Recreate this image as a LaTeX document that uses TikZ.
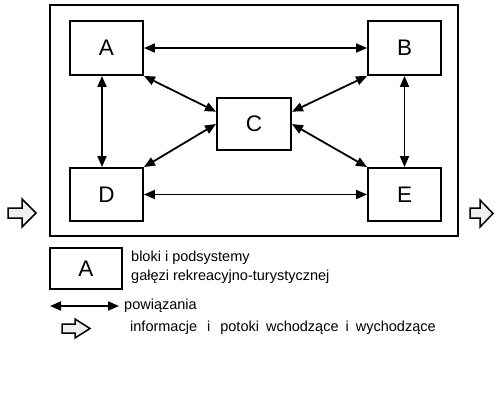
\documentclass[tikz,border=0pt]{standalone}
\usepackage{fontspec}
\setmainfont{Liberation Sans}
\usetikzlibrary{arrows.meta}
\begin{document}
\begin{tikzpicture}[x=1pt,y=-1pt,
 blockbox/.style={draw, line width=1.9pt, minimum width=73pt, minimum height=54pt, inner sep=0pt, font=\fontsize{22.5}{22.5}\selectfont},
 link/.style={line width=1.8pt, {Triangle[length=11pt,width=9pt]}-{Triangle[length=11pt,width=9pt]}},
 fat/.style={draw, line width=1.5pt, fill=gray!12, line join=miter},
 legtext/.style={anchor=west, inner sep=0pt, font=\fontsize{14.5}{17}\selectfont}]
\useasboundingbox[fill=white] (0,0) rectangle (495,392);
% outer frame
\node[draw, line width=1.9pt, minimum width=408pt, minimum height=231pt, inner sep=0pt] (frame) at (254,120.5) {};
% blocks
\node[blockbox] (A) at (106.5,48) {A};
\node[blockbox] (B) at (404.5,48) {B};
\node[blockbox, minimum width=74pt, minimum height=52pt] (C) at (254,124) {C};
\node[blockbox, minimum height=53pt] (D) at (106.5,194.5) {D};
\node[blockbox, minimum height=53pt] (E) at (404.5,194.5) {E};
% links
\draw[link] (A.east) -- (B.west);
\draw[link] ([xshift=-4.5pt]A.south) -- ([xshift=-4.5pt]D.north);
\draw[link] (B.south) -- (E.north);
\draw[link] (D.east) -- (E.west);
\draw[link] (A.south east) -- (C.162);
\draw[link] (C.west) -- (D.north east);
\draw[link] (B.south west) -- (C.18);
\draw[link] (C.east) -- (E.north west);
% input / output flows
\draw[fat] (8,208) -- (22,208) -- (22,199) -- (36,213) -- (22,227) -- (22,218) -- (8,218) -- cycle;
\draw[fat] (470,208) -- (480,208) -- (480,200) -- (493,213.5) -- (480,227) -- (480,218) -- (470,218) -- cycle;
% legend
\node[blockbox, minimum width=72pt, minimum height=41pt] (key) at (86,268.5) {A};
\node[legtext] (t1) at (131,258) {bloki i podsystemy};
\node[legtext] (t2) at (131,277) {gałęzi rekreacyjno-turystycznej};
\coordinate (l1) at (50,306);
\coordinate (l2) at (119,306);
\draw[link] (l1) -- (l2);
\node[legtext] (t3) at (124,306) {powiązania};
\draw[fat] (62,324) -- (75,324) -- (75,319) -- (90,328.5) -- (75,338) -- (75,333) -- (62,333) -- cycle;
\node[legtext] (t4) at (130,328) {informacje\hspace{6pt} i\hspace{6pt} potoki\hspace{3pt} wchodzące\hspace{3pt} i\hspace{3pt} wychodzące};
\end{tikzpicture}
\end{document}
